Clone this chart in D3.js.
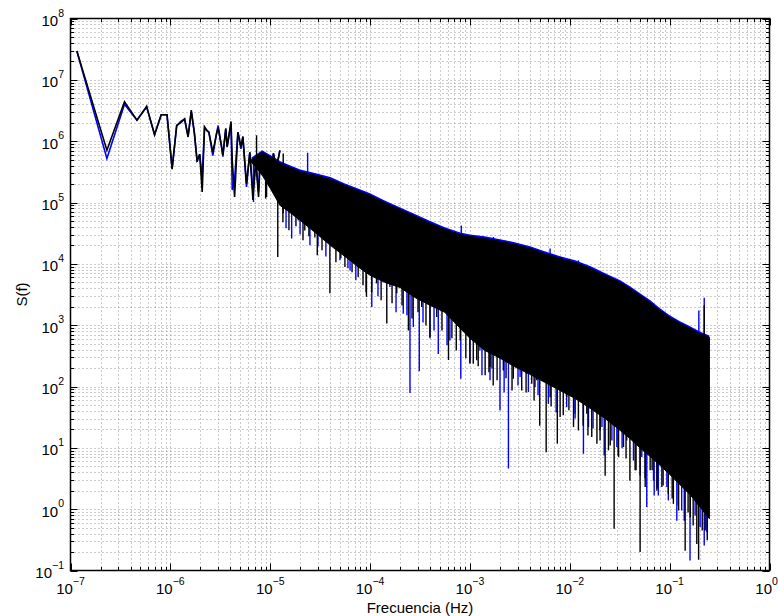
<!DOCTYPE html>
<html>
<head>
<meta charset="utf-8">
<script src="https://cdn.jsdelivr.net/npm/d3@7"></script>
<style>
  body { margin: 0; background: #fff; }
  text { font-family: "Liberation Sans", Arial, Helvetica, sans-serif; fill: #000; }
</style>
</head>
<body>
<svg id="chart" width="779" height="616"></svg>
<script>
// Frequency resolution of the spectrum (100-day record)
const DF = 1 / 8640000;

// Resolved low-frequency harmonics: index k (f = k * DF) and spectral values
const lowK = [1, 2, 3, 4, 5, 6, 7, 8, 9, 10, 11, 12, 13, 14, 15, 16, 17, 18, 19, 20,
  21, 23, 25, 26, 28, 29, 31, 32, 35, 36, 38, 41, 44, 46, 50, 54, 58, 62, 66, 69,
  74, 80, 86, 93, 100, 108];
const lowBlack = [2.95e7, 7.1e5, 4.4e6, 2.2e6, 3.7e6, 1.26e6, 2.7e6, 2.7e6, 3.5e5, 1.8e6,
  2.0e6, 2.3e6, 1.17e6, 3.2e6, 1.4e6, 4.9e5, 6.1e5, 1.48e5, 1.7e6, 1.5e6,
  1.4e6, 6.6e5, 1.3e6, 1.66e6, 8.5e5, 5.9e5, 1.6e6, 8.1e5, 2.1e6, 4.9e5,
  1.23e5, 1.4e6, 8.1e5, 1.17e6, 2.0e5, 6.6e5, 1.1e5, 4.9e5, 1.23e5, 6.2e5,
  3.0e5, 5.5e5, 2.0e5, 6.2e5, 3.8e5, 7.1e5];
const lowBlue = [2.95e7, 5.2e5, 4.0e6, 2.2e6, 3.6e6, 1.3e6, 2.7e6, 2.7e6, 3.6e5, 1.8e6,
  2.1e6, 2.3e6, 1.2e6, 3.0e6, 1.4e6, 4.6e5, 6.1e5, 2.6e5, 1.7e6, 1.5e6,
  1.4e6, 5.8e5, 1.3e6, 1.8e6, 8.5e5, 5.6e5, 1.6e6, 8.1e5, 1.9e6, 1.6e5,
  2.4e5, 1.4e6, 7.5e5, 1.2e6, 1.8e5, 6.6e5, 1.5e5, 4.6e5, 1.5e5, 6.5e5,
  2.8e5, 5.5e5, 1.8e5, 6.4e5, 3.6e5, 7.1e5];

// Dense part of the spectrum: upper edge and solid lower edge of the band
const bandF = [6.5e-6, 8.3e-6, 1.0e-5, 1.25e-5, 1.57e-5, 2.0e-5, 2.8e-5, 4.0e-5, 5.6e-5, 7.9e-5, 1.0e-4,
  1.4e-4, 2.0e-4, 2.8e-4, 4.0e-4, 5.6e-4, 8.0e-4, 1.0e-3, 1.4e-3, 2.0e-3, 2.8e-3,
  4.0e-3, 5.6e-3, 8.0e-3, 1.13e-2, 1.6e-2, 2.26e-2, 3.2e-2, 4.0e-2, 5.1e-2, 6.4e-2,
  8.0e-2, 0.10, 0.127, 0.16, 0.20, 0.25];
const blackTop = [5.0e5, 6.6e5, 5.5e5, 4.4e5, 3.75e5, 3.2e5, 2.8e5, 2.4e5, 1.9e5, 1.52e5, 1.31e5,
  1.0e5, 7.7e4, 6.0e4, 4.6e4, 3.66e4, 3.0e4, 2.8e4, 2.6e4, 2.33e4, 2.08e4,
  1.79e4, 1.48e4, 1.23e4, 1.06e4, 8.5e3, 6.5e3, 5.0e3, 4.0e3, 3.05e3, 2.35e3,
  1.74e3, 1.34e3, 1.07e3, 8.9e2, 7.3e2, 6.3e2];
const blackFloor = [4.5e5, 2.8e5, 1.71e5, 9.0e4, 6.9e4, 5.1e4, 3.27e4, 2.0e4, 1.32e4, 8.5e3, 6.5e3,
  5.0e3, 4.1e3, 2.84e3, 2.1e3, 1.62e3, 8.9e2, 6.1e2, 3.9e2, 2.9e2, 2.1e2,
  158, 117, 86, 64, 44, 30, 19.2, 14.2, 9.8, 7.2,
  5.2, 3.7, 2.5, 1.73, 1.10, 0.70];
const blueTop = [5.4e5, 7.1e5, 5.95e5, 4.75e5, 4.05e5, 3.46e5, 3.02e5, 2.6e5, 2.05e5, 1.64e5, 1.41e5,
  1.08e5, 8.3e4, 6.5e4, 4.97e4, 3.95e4, 3.24e4, 3.02e4, 2.81e4, 2.52e4, 2.25e4,
  1.93e4, 1.6e4, 1.33e4, 1.14e4, 9.2e3, 7.0e3, 5.4e3, 4.32e3, 3.29e3, 2.54e3,
  1.88e3, 1.45e3, 1.16e3, 9.6e2, 7.9e2, 6.8e2];
const blueFloor = [4.7e5, 3.0e5, 1.85e5, 9.8e4, 7.5e4, 5.6e4, 3.6e4, 2.2e4, 1.45e4, 9.3e3, 7.1e3,
  5.5e3, 4.5e3, 3.1e3, 2.3e3, 1.78e3, 9.8e2, 6.7e2, 4.3e2, 3.2e2, 2.3e2,
  174, 129, 95, 70, 48, 33, 21, 15.6, 10.8, 7.9,
  5.7, 4.1, 2.75, 1.9, 1.21, 0.77];

// Long excursions beyond the band (frequency, value)
const blackSpikeF = [7.3e-6, 9.0e-6, 9.2e-6, 1.19e-5, 1.35e-5, 1.35e-5, 1.84e-5, 2.22e-5, 2.8e-5, 2.96e-5,
  3.4e-5, 3.67e-5, 3.96e-5, 5.6e-5, 5.8e-5, 7.0e-5, 7.6e-5, 9.2e-5, 1.16e-4, 1.36e-4,
  1.47e-4, 1.71e-4, 1.85e-4, 2.42e-4, 2.92e-4, 3.29e-4, 3.98e-4, 4.65e-4, 5.4e-4, 6.1e-4,
  8.0e-4, 9.3e-4, 1.0e-3, 1.08e-3, 1.17e-3, 1.31e-3, 1.42e-3, 1.59e-3, 1.71e-3, 2.16e-3,
  2.72e-3, 3.3e-3, 3.71e-3, 4.16e-3, 4.67e-3, 5.0e-3, 5.8e-3, 6.35e-3, 7.5e-3, 8.0e-3,
  8.0e-3, 9.3e-3, 1.09e-2, 1.22e-2, 1.48e-2, 1.66e-2, 1.87e-2, 2.01e-2, 2.26e-2, 2.44e-2,
  2.78e-2, 3.08e-2, 3.45e-2, 4.0e-2, 4.51e-2, 5.06e-2, 5.69e-2, 6.38e-2, 7.45e-2, 8.36e-2,
  9.7e-2, 0.109, 0.123, 0.143, 0.161, 0.187, 0.195, 0.227, 0.222];
const blackSpikeS = [1.25e6, 1.16e5, 1.23e5, 1.29e4, 6.3e5, 6.6e4, 7.5e4, 3.5e4, 2.7e4, 1.38e4,
  5.1e4, 2.9e4, 3.3e3, 8.9e3, 1.88e4, 1.14e4, 6.1e3, 2.9e3, 4.8e3, 8.9e3,
  1.06e3, 5.4e3, 3.3e3, 8.2e2, 4.2e3, 1.97e3, 6.1e2, 1.36e3, 1.98e3, 2.7e2,
  5.6e2, 1.2e3, 235, 236, 267, 2.67e4, 152, 207, 104, 183,
  134, 86, 161, 111, 126, 23, 8.5, 67, 11.7, 31.7,
  1.29e4, 67, 21.8, 19.2, 36, 15, 11.7, 19.2, 3.5, 9.1,
  0.48, 7.1, 10.3, 2.9, 4.3, 0.20, 2.3, 4.3, 2.0, 2.3,
  1.78, 1.22, 0.95, 0.21, 0.74, 0.27, 0.15, 0.45, 2.1e3];
const blueSpikeF = [6.8e-6, 1.25e-5, 1.64e-5, 1.91e-5, 2.37e-5, 2.5e-5, 4.99e-5, 6.3e-5, 8.2e-5, 1.04e-4,
  1.47e-4, 1.58e-4, 2.15e-4, 2.51e-4, 2.71e-4, 3.11e-4, 3.55e-4, 3.98e-4, 4.82e-4, 5.0e-4,
  6.3e-4, 7.4e-4, 8.1e-4, 8.2e-4, 1.26e-3, 1.59e-3, 1.72e-3, 2.0e-3, 2.25e-3, 2.43e-3,
  3.18e-3, 3.85e-3, 4.49e-3, 6.1e-3, 6.35e-3, 6.86e-3, 9.3e-3, 1.13e-2, 1.22e-2, 1.37e-2,
  1.54e-2, 2.1e-2, 2.64e-2, 2.96e-2, 3.58e-2, 3.72e-2, 4.34e-2, 5.26e-2, 5.26e-2, 5.9e-2,
  6.89e-2, 7.7e-2, 9.38e-2, 0.118, 0.118, 0.132, 0.160, 0.196, 0.202, 0.222,
  0.236];
const blueSpikeS = [1.02e5, 9.6e4, 2.58e4, 5.1e4, 6.5e5, 2.0e4, 1.14e4, 7.8e3, 1.47e4, 1.97e3,
  6.1e3, 4.2e3, 1.54e3, 78, 9.3e2, 1.78e2, 2.5e3, 6.4e2, 3.4e2, 3.3e3,
  5.6e2, 1.36e3, 1.34e2, 4.2e4, 388, 126, 2.74e4, 41, 2.4e4, 4.6,
  143, 81, 98, 52, 1.77e4, 126, 46, 36, 1.14e4, 8.0,
  21.8, 21.8, 13.2, 10.3, 4.7e3, 13.2, 6.2, 7.1, 2.9e3, 1.08,
  2.9, 1.67, 2.3, 0.65, 1.12e3, 0.95, 0.145, 1.74e3, 0.51, 2.8e3,
  0.42];

// Short dips along the ragged lower edge of the band (frequency, value)
const blackEdgeF = [1.34e-5, 1.54e-5, 1.81e-5, 2.13e-5, 2.44e-5, 3.30e-5, 4.55e-5, 5.1e-5, 6.6e-5, 8.5e-5,
  1.04e-4, 1.29e-4, 1.66e-4, 2.09e-4, 2.63e-4, 3.02e-4, 3.63e-4, 5.25e-4, 6.6e-4, 7.3e-4,
  9.1e-4, 1.21e-3, 1.55e-3, 1.87e-3, 2.30e-3, 2.64e-3, 3.65e-3, 4.39e-3, 6.5e-3, 8.6e-3,
  9.8e-3, 1.36e-2, 1.52e-2, 2.01e-2, 2.54e-2, 3.05e-2, 3.66e-2, 4.61e-2, 5.68e-2, 6.68e-2,
  7.5e-2, 8.6e-2, 0.106, 0.122, 0.153, 0.172, 0.212, 0.238];
const blackEdgeS = [4.75e4, 3.52e4, 4.09e4, 2.42e4, 2.81e4, 1.66e4, 1.06e4, 1.23e4, 7.3e3, 4.46e3,
  3.43e3, 2.54e3, 2.27e3, 2.10e3, 1.29e3, 1.62e3, 9.9e2, 8.2e2, 6.1e2, 3.88e2,
  2.88e2, 2.13e2, 170, 126, 136, 86, 80, 59, 47, 34,
  41, 23, 15.9, 13.2, 10.9, 7.5, 6.7, 4.3, 3.2, 4.3,
  2.17, 2.43, 1.49, 1.15, 0.88, 0.54, 0.45, 0.31];
const blueEdgeF = [1.44e-5, 1.99e-5, 3.01e-5, 3.61e-5, 6.0e-5, 7.2e-5, 9.1e-5, 1.20e-4, 1.82e-4, 2.34e-4,
  3.39e-4, 4.37e-4, 5.9e-4, 1.0e-3, 1.32e-3, 1.66e-3, 2.20e-3, 3.03e-3, 4.81e-3, 7.3e-3,
  1.13e-2, 1.71e-2, 2.21e-2, 3.34e-2, 5.06e-2, 7.0e-2, 9.7e-2, 0.140, 0.180, 0.222];
const blueEdgeS = [3.79e4, 3.03e4, 1.93e4, 1.32e4, 8.5e3, 5.4e3, 3.43e3, 2.95e3, 1.62e3, 1.45e3,
  1.11e3, 8.2e2, 4.69e2, 2.47e2, 152, 197, 80, 104, 72, 37.8,
  30.2, 20.7, 7.5, 9.8, 3.55, 1.67, 1.39, 0.65, 0.79, 0.255];

// Axis decades (exponents of ten)
const xTickExp = [-7, -6, -5, -4, -3, -2, -1, 0];
const yTickExp = [-1, 0, 1, 2, 3, 4, 5, 6, 7, 8];

const xLabel = "Frecuencia (Hz)";
const yLabel = "S(f)";

// ---------------------------------------------------------------------------
const svg = d3.select("#chart");
const W = 779;
const L = 70.5, R = 769.5, T = 18.5, B = 570.5;

const x = d3.scaleLog().domain([1e-7, 1]).range([L, R]);
const y = d3.scaleLog().domain([1e-1, 1e8]).range([B, T]);

// grid and tick positions: decades plus 2..9 subdivisions
function logTicks(e0, e1) {
  const major = [], minor = [];
  for (let e = e0; e <= e1; e++) {
    major.push(Math.pow(10, e));
    if (e < e1) for (let m = 2; m <= 9; m++) minor.push(m * Math.pow(10, e));
  }
  return { major, minor };
}
const xt = logTicks(xTickExp[0], xTickExp[xTickExp.length - 1]);
const yt = logTicks(yTickExp[0], yTickExp[yTickExp.length - 1]);

// dotted grid
const grid = svg.append("g")
  .attr("stroke", "#000").attr("stroke-width", 0.8)
  .attr("stroke-dasharray", "1,3").attr("opacity", 0.5);
xt.major.concat(xt.minor).forEach(v => {
  const px = Math.round(x(v)) + 0.5;
  if (px <= L + 1 || px >= R - 1) return;
  grid.append("line").attr("x1", px).attr("x2", px).attr("y1", T).attr("y2", B);
});
yt.major.concat(yt.minor).forEach(v => {
  const py = Math.round(y(v)) + 0.5;
  if (py <= T + 1 || py >= B - 1) return;
  grid.append("line").attr("x1", L).attr("x2", R).attr("y1", py).attr("y2", py);
});

// data layer
svg.append("clipPath").attr("id", "plotclip")
  .append("rect").attr("x", L).attr("y", T).attr("width", R - L).attr("height", B - T);
const plot = svg.append("g").attr("clip-path", "url(#plotclip)");

function drawSeries(color, lowVals, top, floor, spikeF, spikeS, edge) {
  const g = plot.append("g");
  // solid band of the dense spectrum
  const band = bandF.map((f, i) => ({ f, hi: top[i], lo: floor[i] }));
  g.append("path")
    .datum(band)
    .attr("fill", color).attr("stroke", edge ? color : "none").attr("stroke-width", 1)
    .attr("d", d3.area().x(d => x(d.f)).y0(d => y(d.lo)).y1(d => y(d.hi)));

  // band centre (log-log) used as the root of each excursion
  const midLog = d3.scaleLog().domain(bandF)
    .range(bandF.map((f, i) => (Math.log10(top[i]) + Math.log10(floor[i])) / 2))
    .clamp(true);
  g.append("g").attr("stroke", color).attr("stroke-width", 1.4)
    .selectAll("path").data(spikeF.map((f, i) => ({ f, s: spikeS[i] })))
    .join("path")
    .attr("d", d => `M${x(d.f)},${y(Math.pow(10, midLog(d.f)))}V${y(d.s)}`);

  // resolved harmonics
  const pts = lowK.map((k, i) => ({ f: k * DF, s: lowVals[i] }));
  g.append("path")
    .datum(pts)
    .attr("fill", "none").attr("stroke", color).attr("stroke-width", 1.6)
    .attr("stroke-linejoin", "miter")
    .attr("d", d3.line().x(d => x(d.f)).y(d => y(d.s)));
}

drawSeries("#0000ff", lowBlue, blueTop, blueFloor,
  blueSpikeF.concat(blueEdgeF), blueSpikeS.concat(blueEdgeS), false);
drawSeries("#000000", lowBlack, blackTop, blackFloor,
  blackSpikeF.concat(blackEdgeF), blackSpikeS.concat(blackEdgeS), true);

// frame and inward ticks on all four sides
const axes = svg.append("g").attr("stroke", "#000").attr("fill", "none");
axes.append("rect").attr("x", L).attr("y", T).attr("width", R - L).attr("height", B - T)
  .attr("stroke-width", 1.5);
const tk = axes.append("g").attr("stroke-width", 1);
function xTicks(vals, len) {
  vals.forEach(v => {
    const px = Math.round(x(v)) + 0.5;
    tk.append("line").attr("x1", px).attr("x2", px).attr("y1", B).attr("y2", B - len);
    tk.append("line").attr("x1", px).attr("x2", px).attr("y1", T).attr("y2", T + len);
  });
}
function yTicks(vals, len) {
  vals.forEach(v => {
    const py = Math.round(y(v)) + 0.5;
    tk.append("line").attr("x1", L).attr("x2", L + len).attr("y1", py).attr("y2", py);
    tk.append("line").attr("x1", R).attr("x2", R - len).attr("y1", py).attr("y2", py);
  });
}
xTicks(xt.major, 7); xTicks(xt.minor, 3.5);
yTicks(yt.major, 7); yTicks(yt.minor, 3.5);

// tick labels: 10 with superscript exponent
const expStr = e => (e < 0 ? "\u2212" + (-e) : String(e));
const xl = svg.append("g").attr("font-size", 15);
xTickExp.forEach(e => {
  const t = xl.append("text").attr("x", x(Math.pow(10, e))).attr("y", 594)
    .attr("text-anchor", "middle");
  t.append("tspan").text("10");
  t.append("tspan").attr("dy", -9.5).attr("font-size", 10.5).text(expStr(e));
  // keep the last label inside the page
  const bb = t.node().getBBox();
  if (bb.x + bb.width > W - 1) t.attr("x", +t.attr("x") - (bb.x + bb.width - (W - 1)));
});
const yl = svg.append("g").attr("font-size", 15);
yTickExp.forEach(e => {
  const t = yl.append("text").attr("x", 64).attr("y", y(Math.pow(10, e)) + 7.5)
    .attr("text-anchor", "end");
  t.append("tspan").text("10");
  t.append("tspan").attr("dy", -9.5).attr("font-size", 10.5).text(expStr(e));
});

// axis titles
svg.append("text").attr("x", (L + R) / 2).attr("y", 613)
  .attr("text-anchor", "middle").attr("font-size", 15).text(xLabel);
svg.append("text").attr("transform", `translate(27,${(T + B) / 2}) rotate(-90)`)
  .attr("text-anchor", "middle").attr("font-size", 15).text(yLabel);
</script>
</body>
</html>
